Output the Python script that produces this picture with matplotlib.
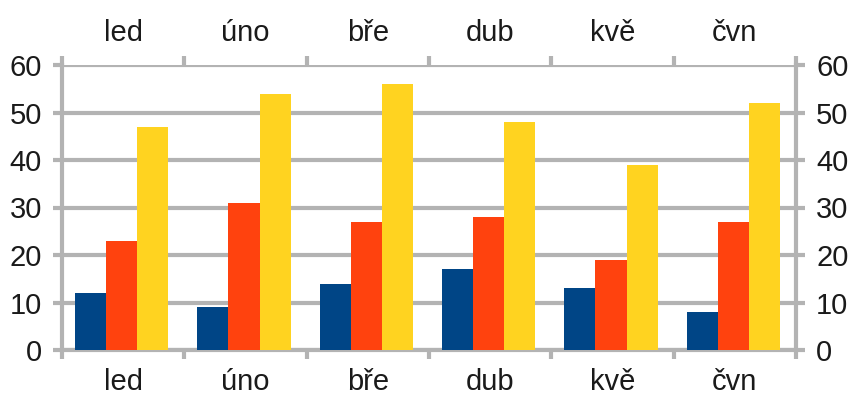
import matplotlib
matplotlib.use("Agg")
import matplotlib.pyplot as plt
import numpy as np

months = ["led", "úno", "bře", "dub", "kvě", "čvn"]
series_a = [12, 9, 14, 17, 13, 8]
series_b = [23, 31, 27, 28, 19, 27]
series_c = [47, 54, 56, 48, 39, 52]
y_ticks = [0, 10, 20, 30, 40, 50, 60]

COLORS = ["#004586", "#ff420e", "#ffd320"]
GRID = "#b3b3b3"

plt.rcParams["font.family"] = ["Liberation Sans", "DejaVu Sans"]

fig = plt.figure(figsize=(8.48, 3.96), dpi=100)
ax = fig.add_axes([62 / 848, 46 / 396, 734 / 848, 285 / 396])

x = np.arange(len(months))
w = 0.254
for i, (vals, c) in enumerate(zip([series_a, series_b, series_c], COLORS)):
    ax.bar(x + (i - 1) * w - 0.012, vals, w, color=c, zorder=3)

ax.set_xlim(-0.5, len(months) - 0.5)
ax.set_ylim(0, 60)
ax.set_yticks(y_ticks)
ax.yaxis.grid(True, color=GRID, linewidth=3, zorder=0)

ax.spines["top"].set_visible(False)
for side in ["left", "right", "bottom"]:
    ax.spines[side].set_color(GRID)
    ax.spines[side].set_linewidth(3)

# category boundaries get the ticks, centres get the labels
bounds = np.arange(len(months) + 1) - 0.5
ax.set_xticks(bounds)
ax.set_xticklabels([""] * len(bounds))
ax.set_xticks(x, minor=True)
ax.set_xticklabels(months, minor=True)
ax.tick_params(axis="x", which="major", direction="out", length=6.5, width=3,
               color=GRID, top=True, bottom=True)
ax.tick_params(axis="x", which="minor", length=0, labelsize=21,
               labeltop=True, labelbottom=True, pad=13, labelcolor="#1a1a1a")
ax.tick_params(axis="y", direction="out", length=6.5, width=3, color=GRID,
               left=True, right=True, labelleft=True, labelright=True,
               labelsize=21, pad=8, labelcolor="#1a1a1a")

fig.savefig("out.png", dpi=100)
